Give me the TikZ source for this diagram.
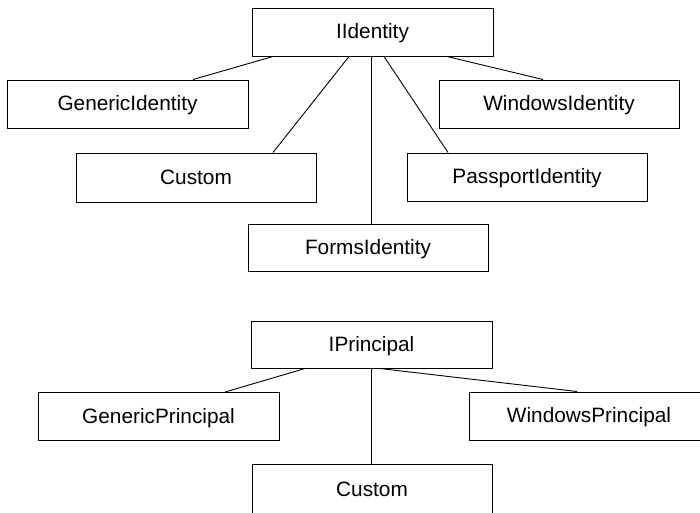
\documentclass[tikz,border=0pt]{standalone}
\usepackage{fontspec}
\setmainfont{Liberation Sans}
\begin{document}
\begin{tikzpicture}[x=1pt,y=-1pt,
  classbox/.style={draw=black, line width=1pt, fill=white, inner sep=0pt,
    minimum width=240pt, minimum height=48pt,
    text height=15pt, text depth=2pt,
    font=\fontsize{20.8}{24}\selectfont},
  link/.style={draw=black, line width=0.9pt}]
  % page frame; the lower boxes run off its edges
  \path[use as bounding box, clip] (0,0) rectangle (700,512);
  \fill[white] (0,0) rectangle (700,512);

  % identity hierarchy
  \node[classbox, minimum width=241pt] (iid) at (372.5,32) {IIdentity};
  \node[classbox, minimum width=241pt] (gid) at (127.5,104) {GenericIdentity};
  \node[classbox] (wid) at (559,104) {WindowsIdentity};
  \node[classbox, minimum height=49pt] (cid) at (196,177.5) {Custom};
  \node[classbox] (pid) at (527,177) {PassportIdentity};
  \node[classbox, minimum height=47pt] (fid) at (368,247.5) {FormsIdentity};

  \draw[link] ([xshift=-99.5pt]iid.south) -- ([xshift=65.5pt]gid.north);
  \draw[link] ([xshift=-23.5pt]iid.south) -- ([xshift=77pt]cid.north);
  \draw[link] ([xshift=-1.5pt]iid.south) -- ([xshift=3pt]fid.north);
  \draw[link] ([xshift=11.5pt]iid.south) -- ([xshift=-79pt]pid.north);
  \draw[link] ([xshift=74.5pt]iid.south) -- ([xshift=-16pt]wid.north);

  % principal hierarchy
  \node[classbox, minimum width=241pt, minimum height=47pt] (ipr) at (371.5,344.5) {IPrincipal};
  \node[classbox, minimum width=241pt] (gpr) at (158.5,416.5) {GenericPrincipal};
  \node[classbox] (wpr) at (589,416) {WindowsPrincipal};
  \node[classbox, minimum height=52pt] (cpr) at (372,490) {Custom};

  \draw[link] ([xshift=-66.5pt]ipr.south) -- ([xshift=66.5pt]gpr.north);
  \draw[link] ([xshift=-0.5pt]ipr.south) -- ([xshift=-1pt]cpr.north);
  \draw[link] ([xshift=8.5pt]ipr.south) -- ([xshift=-12pt]wpr.north);
\end{tikzpicture}
\end{document}
